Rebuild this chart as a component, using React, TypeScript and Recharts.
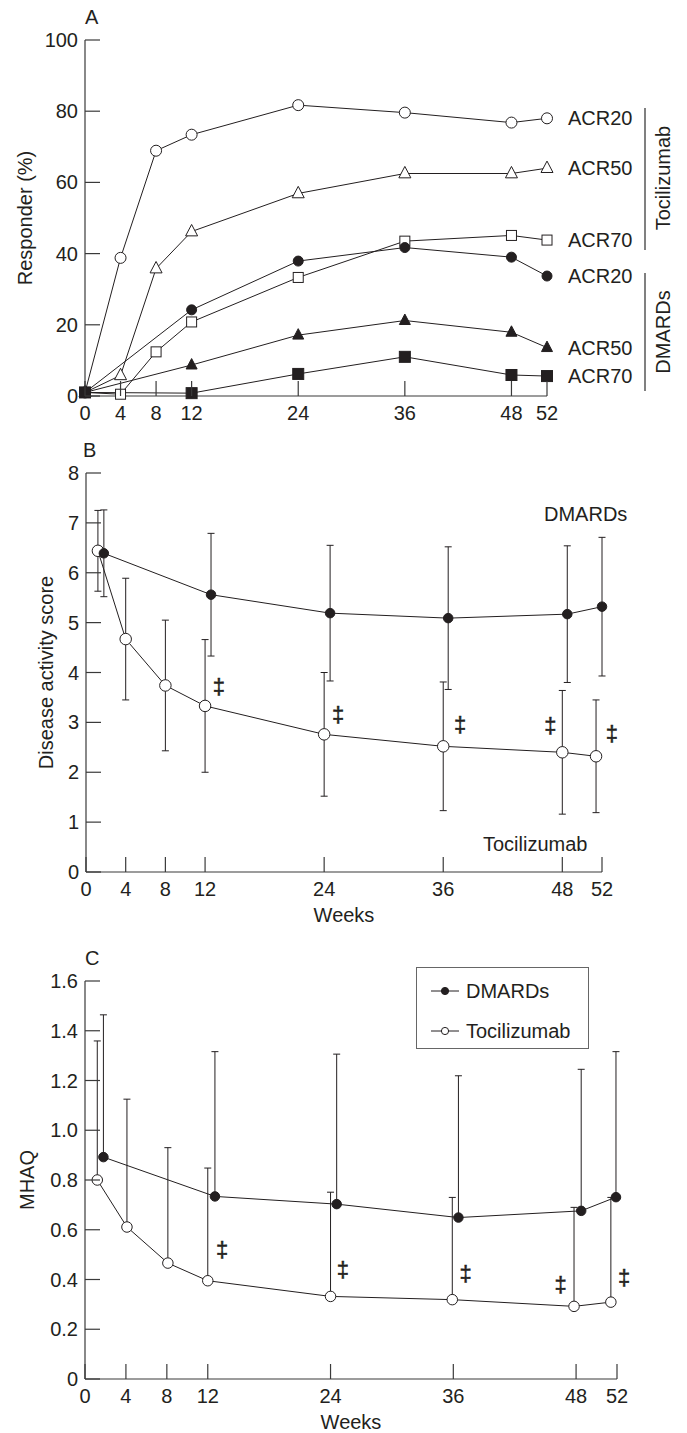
import React from 'react';
import {
  ComposedChart, Line, XAxis, YAxis, ErrorBar, ReferenceDot, Legend
} from 'recharts';

const FONT = '"Liberation Sans", Arial, Helvetica, sans-serif';
const INK = '#231f20';
const AXIS = '#3a3a3a';

const weekTicks = [0, 4, 8, 12, 24, 36, 48, 52];

// ---- panel A: ACR responders (%)
const acrTicks = [0, 20, 40, 60, 80, 100];
const tocWeeksA = [0, 4, 8, 12, 24, 36, 48, 52];
const dmardWeeksA = [0, 12, 24, 36, 48, 52];
const tocAcr20 = [1, 38.8, 68.9, 73.4, 81.7, 79.6, 76.8, 78];
const tocAcr50 = [1, 5.8, 35.8, 46.2, 56.9, 62.5, 62.5, 64];
const tocAcr70 = [1, 0.5, 12.4, 20.8, 33.3, 43.5, 45.1, 43.8];
const dmardAcr20 = [1, 24.2, 37.9, 41.7, 39, 33.7];
const dmardAcr50 = [1, 8.7, 17.1, 21.2, 17.9, 13.6];
const dmardAcr70 = [1, 0.8, 6.2, 11, 5.9, 5.6];

// ---- panel B: disease activity score (mean, SD)
const dasTicks = [0, 1, 2, 3, 4, 5, 6, 7, 8];
const tocWeeksB = [1.2, 4, 8, 12, 24, 36, 48, 51.4];
const tocDas = [6.44, 4.67, 3.74, 3.33, 2.76, 2.52, 2.4, 2.32];
const tocDasSd = [0.81, 1.22, 1.31, 1.33, 1.24, 1.29, 1.24, 1.13];
const dmardWeeksB = [1.8, 12.6, 24.6, 36.5, 48.5, 52];
const dmardDas = [6.39, 5.56, 5.19, 5.09, 5.17, 5.32];
const dmardDasSd = [0.87, 1.23, 1.36, 1.43, 1.37, 1.39];
const daggerWeeksB = [13.4, 25.4, 37.7, 46.8, 53];
const daggerDasB = [3.71, 3.15, 2.96, 2.93, 2.77];

// ---- panel C: MHAQ (mean, upper SD)
const mhaqTicks = [0, 0.2, 0.4, 0.6, 0.8, 1.0, 1.2, 1.4, 1.6];
const tocWeeksC = [1.2, 4.1, 8.1, 12, 24, 35.9, 47.8, 51.4];
const tocMhaq = [0.8, 0.611, 0.466, 0.395, 0.332, 0.319, 0.292, 0.309];
const tocMhaqSd = [0.559, 0.514, 0.464, 0.453, 0.419, 0.411, 0.398, 0.421];
const dmardWeeksC = [1.8, 12.7, 24.6, 36.5, 48.5, 51.9];
const dmardMhaq = [0.892, 0.734, 0.703, 0.649, 0.676, 0.731];
const dmardMhaqSd = [0.572, 0.582, 0.603, 0.57, 0.569, 0.585];
const daggerWeeksC = [13.4, 25.2, 37.2, 46.5, 52.7];
const daggerMhaqC = [0.52, 0.439, 0.426, 0.378, 0.408];

const groupNames = ['DMARDs', 'Tocilizumab'];

const toRows = (weeks: number[], vals: number[], sd?: number[], upOnly = false) =>
  weeks.map((w, i) => ({
    week: w,
    v: vals[i],
    err: sd ? (upOnly ? [0, sd[i]] : sd[i]) : undefined,
  }));

type Shape = 'circle' | 'triangle' | 'square';

const makeDot = (shape: Shape, filled: boolean, size: number) => (props: any) => {
  const { cx, cy, index } = props;
  const k = `dot-${index}`;
  if (cx == null || cy == null) return <g key={k} />;
  const fill = filled ? INK : '#fff';
  if (shape === 'triangle') {
    const h = size * 0.95;
    return (
      <polygon key={k} fill={fill} stroke={INK} strokeWidth={1}
        points={`${cx},${cy - h * 0.62} ${cx - size / 2},${cy + h * 0.38} ${cx + size / 2},${cy + h * 0.38}`} />
    );
  }
  if (shape === 'square') {
    return <rect key={k} x={cx - size / 2} y={cy - size / 2} width={size} height={size} fill={fill} stroke={INK} strokeWidth={1} />;
  }
  return <circle key={k} cx={cx} cy={cy} r={size / 2} fill={fill} stroke={INK} strokeWidth={1} />;
};

const XTick = (props: any) => {
  const { x, y, payload } = props;
  return (
    <g>
      <line x1={x} x2={x} y1={y} y2={y - 15} stroke={AXIS} strokeWidth={1.2} />
      <text x={x} y={y + 17} textAnchor="middle" dominantBaseline="central"
        fontFamily={FONT} fontSize={20} fill={INK}>{payload.value}</text>
    </g>
  );
};

const makeYTick = (fmt: (v: number) => string) => (props: any) => {
  const { x, y, payload } = props;
  return (
    <g>
      <line x1={x} x2={x + 15} y1={y} y2={y} stroke={AXIS} strokeWidth={1.2} />
      <text x={x - 7} y={y} textAnchor="end" dominantBaseline="central"
        fontFamily={FONT} fontSize={20} fill={INK}>{fmt(payload.value)}</text>
    </g>
  );
};

const plainTick = makeYTick((v) => String(v));
const mhaqTick = makeYTick((v) => (v === 0 ? '0' : v.toFixed(1)));

const textLabel = (text: string, dx: number) => (p: any) => (
  <text x={p.cx + dx} y={p.cy} dominantBaseline="central" fontFamily={FONT} fontSize={20} fill={INK}>{text}</text>
);

// stroke on the glyph keeps it grey-scale and a bit heavier, like the print
const dagger = (p: any) => (
  <text x={p.cx} y={p.cy} textAnchor="middle" dominantBaseline="central" fontFamily={FONT}
    fontSize={22} fill={INK} stroke={INK} strokeWidth={0.5}>‡</text>
);

const seriesA = [
  { label: 'ACR20', weeks: tocWeeksA, vals: tocAcr20, shape: 'circle' as Shape, filled: false, size: 11 },
  { label: 'ACR50', weeks: tocWeeksA, vals: tocAcr50, shape: 'triangle' as Shape, filled: false, size: 12 },
  { label: 'ACR70', weeks: tocWeeksA, vals: tocAcr70, shape: 'square' as Shape, filled: false, size: 10 },
  { label: 'ACR20', weeks: dmardWeeksA, vals: dmardAcr20, shape: 'circle' as Shape, filled: true, size: 10 },
  { label: 'ACR50', weeks: dmardWeeksA, vals: dmardAcr50, shape: 'triangle' as Shape, filled: true, size: 11 },
  { label: 'ACR70', weeks: dmardWeeksA, vals: dmardAcr70, shape: 'square' as Shape, filled: true, size: 11 },
];

const xAxisProps = {
  dataKey: 'week',
  type: 'number' as const,
  domain: [0, 52],
  ticks: weekTicks,
  interval: 0 as const,
  tickLine: false,
  tickSize: 0,
  tickMargin: 0,
  tick: XTick,
  axisLine: { stroke: AXIS, strokeWidth: 1.2 },
};

const yLabelStyle = { textAnchor: 'middle' as const, fontFamily: FONT, fontSize: 20, fill: INK };

const LegendBox = () => (
  <div style={{
    width: 171, height: 80, border: '1px solid #666', background: '#fff',
    position: 'relative', fontFamily: FONT, fontSize: 20, color: INK,
  }}>
    {groupNames.map((name, i) => (
      <div key={name} style={{ position: 'absolute', left: 14, top: 11 + i * 40, height: 24, display: 'flex', alignItems: 'center' }}>
        <svg width={28} height={12}>
          <line x1={0} x2={28} y1={6} y2={6} stroke={INK} strokeWidth={1} />
          <circle cx={14} cy={6} r={3.6} fill={i === 0 ? INK : '#fff'} stroke={INK} strokeWidth={1} />
        </svg>
        <span style={{ marginLeft: 7, lineHeight: '24px' }}>{name}</span>
      </div>
    ))}
  </div>
);

export default function App() {
  const tocB = toRows(tocWeeksB, tocDas, tocDasSd);
  const dmardB = toRows(dmardWeeksB, dmardDas, dmardDasSd);
  const tocC = toRows(tocWeeksC, tocMhaq, tocMhaqSd, true);
  const dmardC = toRows(dmardWeeksC, dmardMhaq, dmardMhaqSd, true);

  return (
    <div style={{ position: 'absolute', left: 0, top: 0, width: 687, height: 1433, background: '#fff', fontFamily: FONT }}>
      {/* A */}
      <div style={{ position: 'absolute', left: 0, top: 0 }}>
        <ComposedChart width={687} height={440} margin={{ top: 40, right: 140, bottom: 0, left: 0 }}>
          <XAxis {...xAxisProps} height={44} />
          <YAxis type="number" domain={[0, 100]} ticks={acrTicks} interval={0} width={85}
            tickLine={false} tickSize={0} tickMargin={0} tick={plainTick}
            axisLine={{ stroke: AXIS, strokeWidth: 1.2 }}
            label={{ value: 'Responder (%)', angle: -90, position: 'insideLeft', offset: 25, style: yLabelStyle }} />
          {seriesA.map((s, i) => (
            <Line key={`a-${i}`} data={toRows(s.weeks, s.vals)} dataKey="v" stroke={INK} strokeWidth={1}
              dot={makeDot(s.shape, s.filled, s.size)} isAnimationActive={false} />
          ))}
          {seriesA.map((s, i) => (
            <ReferenceDot key={`al-${i}`} x={s.weeks[s.weeks.length - 1]} y={s.vals[s.vals.length - 1]}
              r={0} ifOverflow="visible" shape={textLabel(s.label, 21)} />
          ))}
        </ComposedChart>
      </div>

      {/* B */}
      <div style={{ position: 'absolute', left: 0, top: 440 }}>
        <ComposedChart width={687} height={500} margin={{ top: 33, right: 85, bottom: 0, left: 0 }}>
          <XAxis {...xAxisProps} height={68}
            label={{ value: 'Weeks', position: 'insideBottom', offset: 18, style: { fontFamily: FONT, fontSize: 20, fill: INK } }} />
          <YAxis type="number" domain={[0, 8]} ticks={dasTicks} interval={0} width={86}
            tickLine={false} tickSize={0} tickMargin={0} tick={plainTick}
            axisLine={{ stroke: AXIS, strokeWidth: 1.2 }}
            label={{ value: 'Disease activity score', angle: -90, position: 'insideLeft', offset: 46, style: yLabelStyle }} />
          <Line data={tocB} dataKey="v" stroke={INK} strokeWidth={1} dot={makeDot('circle', false, 11.5)} isAnimationActive={false}>
            <ErrorBar dataKey="err" width={3.5} stroke={INK} strokeWidth={1} direction="y" />
          </Line>
          <Line data={dmardB} dataKey="v" stroke={INK} strokeWidth={1} dot={makeDot('circle', true, 9.5)} isAnimationActive={false}>
            <ErrorBar dataKey="err" width={3.5} stroke={INK} strokeWidth={1} direction="y" />
          </Line>
          {daggerWeeksB.map((w, i) => (
            <ReferenceDot key={`bd-${i}`} x={w} y={daggerDasB[i]} r={0} ifOverflow="visible" shape={dagger} />
          ))}
        </ComposedChart>
      </div>

      {/* C */}
      <div style={{ position: 'absolute', left: 0, top: 940 }}>
        <ComposedChart width={687} height={493} margin={{ top: 41, right: 70, bottom: 0, left: 0 }}>
          <XAxis {...xAxisProps} height={54}
            label={{ value: 'Weeks', position: 'insideBottom', offset: 4, style: { fontFamily: FONT, fontSize: 20, fill: INK } }} />
          <YAxis type="number" domain={[0, 1.6]} ticks={mhaqTicks} interval={0} width={85}
            tickLine={false} tickSize={0} tickMargin={0} tick={mhaqTick}
            axisLine={{ stroke: AXIS, strokeWidth: 1.2 }}
            label={{ value: 'MHAQ', angle: -90, position: 'insideLeft', offset: 27, style: yLabelStyle }} />
          <Legend verticalAlign="middle" align="center" layout="vertical"
            wrapperStyle={{ left: 416, top: 27, width: 173, height: 82 }} content={LegendBox} />
          <Line name="Tocilizumab" data={tocC} dataKey="v" stroke={INK} strokeWidth={1} dot={makeDot('circle', false, 10.5)} isAnimationActive={false}>
            <ErrorBar dataKey="err" width={3.5} stroke={INK} strokeWidth={1} direction="y" />
          </Line>
          <Line name="DMARDs" data={dmardC} dataKey="v" stroke={INK} strokeWidth={1} dot={makeDot('circle', true, 9.5)} isAnimationActive={false}>
            <ErrorBar dataKey="err" width={3.5} stroke={INK} strokeWidth={1} direction="y" />
          </Line>
          {daggerWeeksC.map((w, i) => (
            <ReferenceDot key={`cd-${i}`} x={w} y={daggerMhaqC[i]} r={0} ifOverflow="visible" shape={dagger} />
          ))}
        </ComposedChart>
      </div>

      {/* panel letters and group annotations */}
      <svg width={687} height={1433} style={{ position: 'absolute', left: 0, top: 0, pointerEvents: 'none' }}
        fontFamily={FONT} fontSize={20} fill={INK}>
        <text x={85} y={24}>A</text>
        <text x={83} y={457}>B</text>
        <text x={85} y={965}>C</text>
        <line x1={645} x2={645} y1={108} y2={250} stroke="#808080" strokeWidth={2} />
        <line x1={645} x2={645} y1={273} y2={391} stroke="#808080" strokeWidth={2} />
        <text x={663} y={178} textAnchor="middle" dominantBaseline="central" transform="rotate(-90 663 178)">Tocilizumab</text>
        <text x={663} y={332} textAnchor="middle" dominantBaseline="central" transform="rotate(-90 663 332)">DMARDs</text>
        <text x={544} y={521}>DMARDs</text>
        <text x={483} y={851}>Tocilizumab</text>
      </svg>
    </div>
  );
}
